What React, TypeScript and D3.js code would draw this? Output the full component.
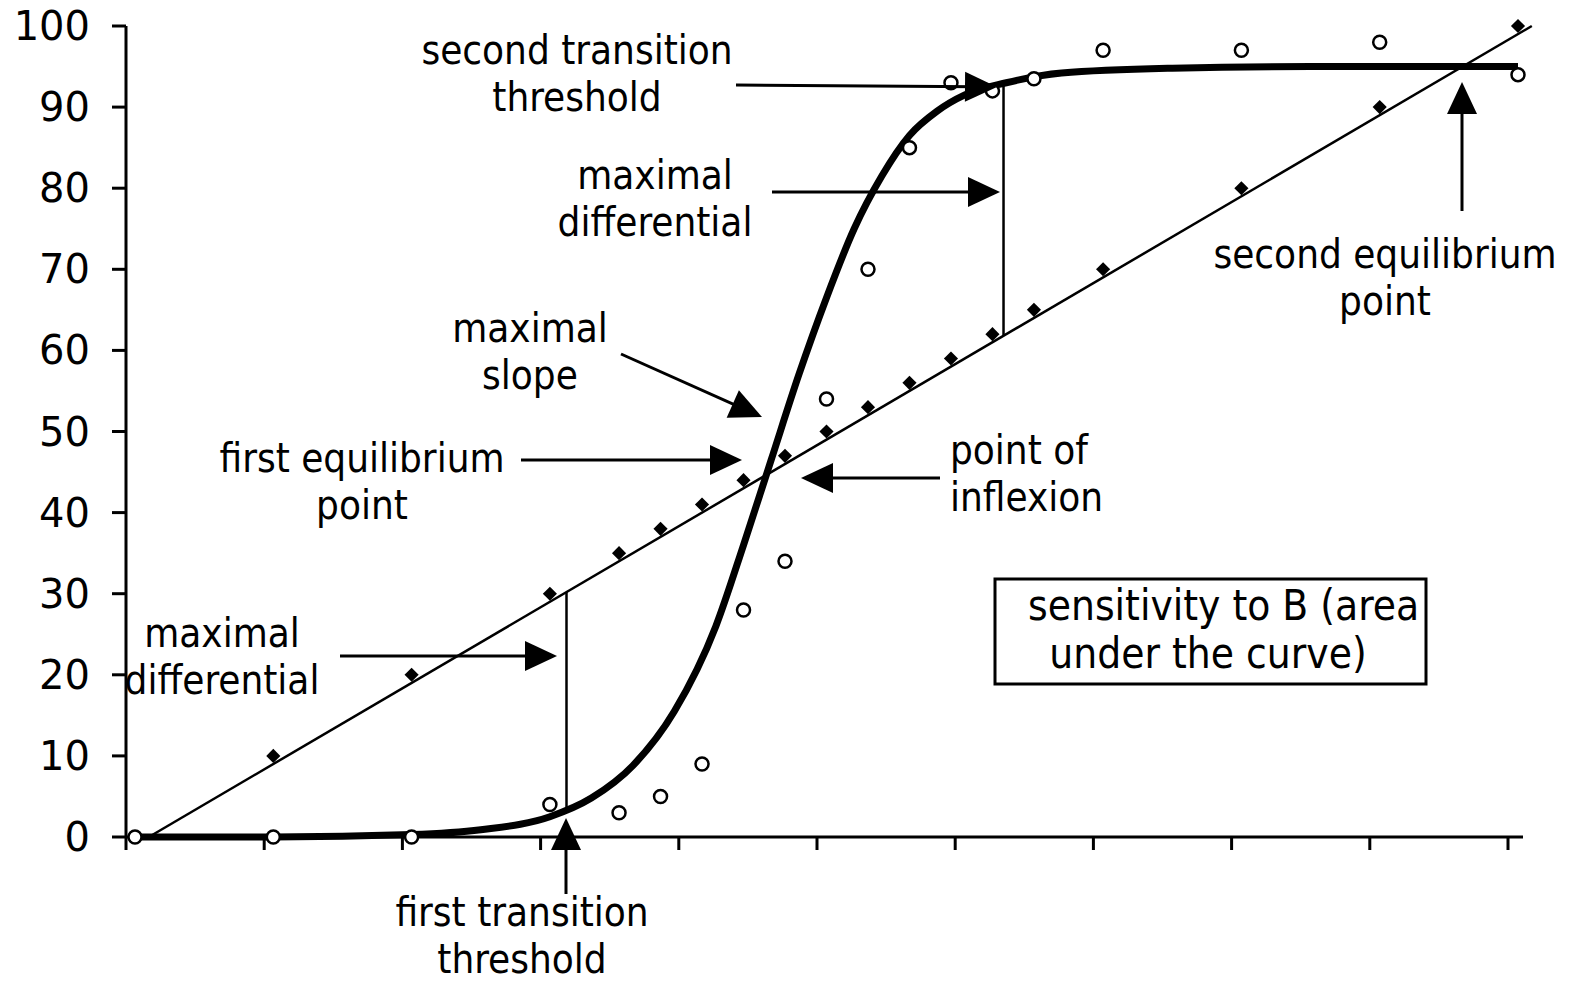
import React from "react";
import * as d3 from "d3";

// ---- data ----
const diamondX = [0, 10, 20, 30, 35, 38, 41, 44, 47, 50, 53, 56, 59, 62, 65, 70, 80, 90, 100];
const diamondY = [0, 10, 20, 30, 35, 38, 41, 44, 47, 50, 53, 56, 59, 62, 65, 70, 80, 90, 100];

const circleX = [0, 10, 20, 30, 35, 38, 41, 44, 47, 50, 53, 56, 59, 62, 65, 70, 80, 90, 100];
const circleY = [0, 0, 0, 4, 3, 5, 9, 28, 34, 54, 70, 85, 93, 92, 93.5, 97, 97, 98, 94];

// fitted sigmoid
const curveX = [0, 10, 20, 25, 30, 33, 36, 39, 42, 44, 46, 48, 50, 52, 54, 56, 58, 60, 63, 67, 75, 85, 100];
const curveY = [0, 0, 0.3, 0.9, 2.5, 4.8, 8.8, 15.5, 26, 36, 46.5, 57, 66.5, 75, 81.5, 86.5, 89.5, 91.5, 93, 94.2, 94.8, 95, 95];

// straight trend line endpoints
const trendX = [1, 101];
const trendY = [0, 100];

const yTicks = [0, 10, 20, 30, 40, 50, 60, 70, 80, 90, 100];
const xTickCount = 10;

// annotations (label lines)
const labels = [
  { lines: ["second transition", "threshold"], x: 577, y: 50, anchor: "middle" },
  { lines: ["maximal", "differential"], x: 655, y: 175, anchor: "middle" },
  { lines: ["maximal", "slope"], x: 530, y: 328, anchor: "middle" },
  { lines: ["first equilibrium", "point"], x: 362, y: 458, anchor: "middle" },
  { lines: ["point of", "inflexion"], x: 950, y: 450, anchor: "start" },
  { lines: ["second equilibrium", "point"], x: 1385, y: 254, anchor: "middle" },
  { lines: ["maximal", "differential"], x: 222, y: 633, anchor: "middle" },
  { lines: ["first transition", "threshold"], x: 522, y: 912, anchor: "middle" },
];

const arrows = [
  { x1: 736, y1: 85, x2: 997, y2: 87 },
  { x1: 772, y1: 192, x2: 1000, y2: 192 },
  { x1: 621, y1: 354, x2: 762, y2: 417 },
  { x1: 521, y1: 460, x2: 742, y2: 460 },
  { x1: 940, y1: 478, x2: 801, y2: 478 },
  { x1: 1462, y1: 211, x2: 1462, y2: 82 },
  { x1: 340, y1: 656, x2: 557, y2: 656 },
  { x1: 566, y1: 894, x2: 566, y2: 818 },
];

// vertical "differential" segments at these x values (data units)
const diffX = [31.2, 62.8];
const diffTop = [30.2, 92.6];
const diffBottom = [3, 61.8];

const FONT = "'DejaVu Sans Condensed', 'DejaVu Sans', sans-serif";

export default function App() {
  const W = 1576;
  const H = 983;
  const axisX = d3.scaleLinear().domain([0, xTickCount]).range([126, 1508]);
  const x = d3.scaleLinear().domain([0, 100]).range([135, 1518]);
  const y = d3.scaleLinear().domain([0, 100]).range([837, 26]);

  const curvePath = d3
    .line<number>()
    .x((_, i) => x(curveX[i]))
    .y((_, i) => y(curveY[i]))
    .curve(d3.curveMonotoneX)(curveX) as string;

  const trendPath = d3
    .line<number>()
    .x((_, i) => x(trendX[i]))
    .y((_, i) => y(trendY[i]))(trendX) as string;

  const diamond = d3.symbol().type(d3.symbolSquare).size(100)() as string;

  const arrowHead = (a: { x1: number; y1: number; x2: number; y2: number }) => {
    const ang = Math.atan2(a.y2 - a.y1, a.x2 - a.x1);
    const L = 32;
    const hw = 15;
    const bx = a.x2 - L * Math.cos(ang);
    const by = a.y2 - L * Math.sin(ang);
    const px = -Math.sin(ang) * hw;
    const py = Math.cos(ang) * hw;
    return `M${a.x2},${a.y2}L${bx + px},${by + py}L${bx - px},${by - py}Z`;
  };

  const xTicks = d3.range(0, xTickCount + 1);

  return (
    <svg
      width={W}
      height={H}
      style={{ position: "absolute", left: 0, top: 0, background: "#fff" }}
      fontFamily={FONT}
    >
      <rect x={0} y={0} width={W} height={H} fill="#fff" />
      {/* axes */}
      <line x1={126} y1={y(100)} x2={126} y2={y(0)} stroke="#000" strokeWidth={3} />
      <line x1={126} y1={y(0)} x2={1523} y2={y(0)} stroke="#000" strokeWidth={3} />
      {yTicks.map((t) => (
        <g key={"yt" + t}>
          <line x1={112} x2={126} y1={y(t)} y2={y(t)} stroke="#000" strokeWidth={3} />
          <text
            x={90}
            y={y(t)}
            textAnchor="end"
            dominantBaseline="central"
            fontSize={40}
            fontFamily="'DejaVu Sans', sans-serif"
            fill="#000"
          >
            {t}
          </text>
        </g>
      ))}
      {xTicks.map((t) => (
        <line key={"xt" + t} x1={axisX(t)} x2={axisX(t)} y1={y(0)} y2={y(0) + 13} stroke="#000" strokeWidth={3} />
      ))}

      {/* trend line */}
      <path d={trendPath} fill="none" stroke="#000" strokeWidth={2.5} />
      {/* sigmoid curve */}
      <path d={curvePath} fill="none" stroke="#000" strokeWidth={7} />

      {/* differential verticals */}
      {diffX.map((dx, i) => (
        <line key={"dv" + i} x1={x(dx)} x2={x(dx)} y1={y(diffTop[i])} y2={y(diffBottom[i])} stroke="#000" strokeWidth={2.5} />
      ))}

      {/* diamonds */}
      {diamondX.map((dx, i) => (
        <path
          key={"d" + i}
          d={diamond}
          transform={`translate(${x(dx)},${y(diamondY[i])}) rotate(45)`}
          fill="#000"
        />
      ))}
      {/* circles */}
      {circleX.map((cx, i) => (
        <circle key={"c" + i} cx={x(cx)} cy={y(circleY[i])} r={6.5} fill="#fff" stroke="#000" strokeWidth={2.5} />
      ))}

      {/* arrows */}
      {arrows.map((a, i) => (
        <g key={"a" + i}>
          <line
            x1={a.x1}
            y1={a.y1}
            x2={a.x2 - 20 * Math.cos(Math.atan2(a.y2 - a.y1, a.x2 - a.x1))}
            y2={a.y2 - 20 * Math.sin(Math.atan2(a.y2 - a.y1, a.x2 - a.x1))}
            stroke="#000"
            strokeWidth={3}
          />
          <path d={arrowHead(a)} fill="#000" />
        </g>
      ))}

      {/* labels */}
      {labels.map((l, i) => (
        <g key={"l" + i}>
          {l.lines.map((s, j) => (
            <text
              key={j}
              x={l.x}
              y={l.y + j * 47}
              textAnchor={l.anchor as any}
              dominantBaseline="central"
              fontSize={40}
              fill="#000"
            >
              {s}
            </text>
          ))}
        </g>
      ))}

      {/* box */}
      <defs>
        <clipPath id="boxclip">
          <rect x={995} y={579} width={431} height={105} />
        </clipPath>
      </defs>
      <g clipPath="url(#boxclip)">
        <text x={1028} y={605} dominantBaseline="central" fontSize={42} fill="#000">
          sensitivity to B (area
        </text>
        <text x={1208} y={653} textAnchor="middle" dominantBaseline="central" fontSize={42} fill="#000">
          under the curve)
        </text>
      </g>
      <rect x={995} y={579} width={431} height={105} fill="none" stroke="#000" strokeWidth={3} />
    </svg>
  );
}
